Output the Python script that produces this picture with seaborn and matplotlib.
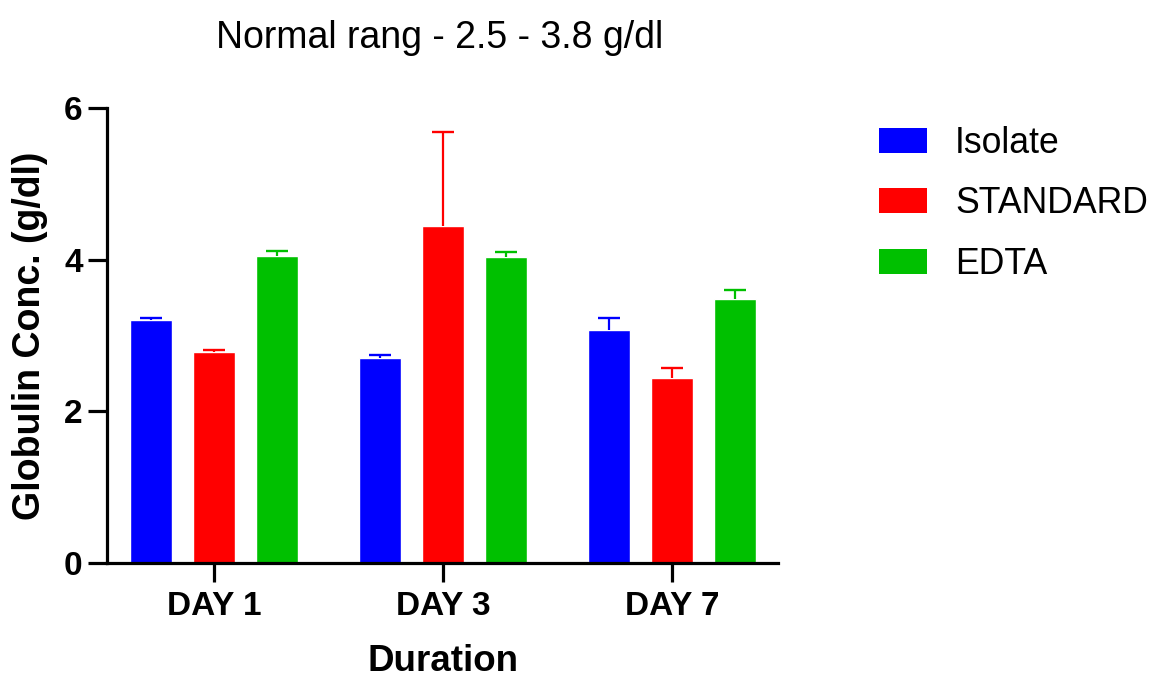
import matplotlib
matplotlib.use("Agg")
import matplotlib.pyplot as plt
import seaborn as sns
import pandas as pd
import numpy as np

days = ["DAY 1", "DAY 3", "DAY 7"]
groups = ["Isolate", "STANDARD", "EDTA"]
isolate = [3.21, 2.70, 3.07]
standard = [2.78, 4.45, 2.44]
edta = [4.05, 4.04, 3.48]
isolate_err = [0.02, 0.04, 0.16]
standard_err = [0.03, 1.23, 0.13]
edta_err = [0.06, 0.06, 0.12]
colors = ["#0000FF", "#FF0000", "#00C000"]
y_ticks = [0, 2, 4, 6]

sns.set_style("ticks")
plt.rcParams['font.family'] = ['Liberation Sans', 'DejaVu Sans']
for k in ["text.color", "axes.labelcolor", "xtick.color", "ytick.color", "axes.edgecolor"]:
    plt.rcParams[k] = "black"

rows = []
for g, vals in zip(groups, [isolate, standard, edta]):
    for d, v in zip(days, vals):
        rows.append({"day": d, "group": g, "value": v})
df = pd.DataFrame(rows)
errs = {"Isolate": isolate_err, "STANDARD": standard_err, "EDTA": edta_err}
vals_by = {"Isolate": isolate, "STANDARD": standard, "EDTA": edta}

fig = plt.figure(figsize=(11.51, 6.77), dpi=100)
ax = fig.add_axes([107/1151, 1-563/677, (778-107)/1151, (563-108)/677])

sns.barplot(data=df, x="day", y="value", hue="group", order=days, hue_order=groups,
            palette=colors, saturation=1, width=0.825, gap=0.333, errorbar=None,
            ax=ax, legend=True)

# error bars (upper only), positioned from the drawn bars
for ci, (cont, g) in enumerate(zip(ax.containers, groups)):
    xs = [p.get_x() + p.get_width() / 2 for p in cont.patches]
    ys = vals_by[g]
    e = errs[g]
    eb = ax.errorbar(xs, ys, yerr=[np.zeros(len(e)), e], fmt="none", ecolor=colors[ci],
                     elinewidth=1.6, capsize=7.8, capthick=1.7, zorder=1)
    caplines = eb[1]
    if len(caplines) >= 2:
        caplines[0].set_visible(False)

ax.set_xlim(-0.467, 2.463)
ax.set_ylim(0, 6)
ax.set_yticks(y_ticks)
sns.despine(ax=ax)
for s in ["left", "bottom"]:
    ax.spines[s].set_linewidth(2.3)
    ax.spines[s].set_color("black")
ax.tick_params(axis="both", length=14, width=2.3, color="black", labelcolor="black")
ax.tick_params(axis="y", pad=3.5)
ax.tick_params(axis="x", pad=6.5)
for lab in ax.get_xticklabels() + ax.get_yticklabels():
    lab.set_fontsize(24)
    lab.set_fontweight("bold")

ax.set_xlabel("Duration", fontsize=26.5, fontweight="bold")
ax.set_ylabel("Globulin Conc. (g/dl)", fontsize=27, fontweight="bold")
ax.yaxis.set_label_coords(-0.088, 0.5)
ax.xaxis.set_label_coords(0.5007, -0.178)

fig.text(440/1151, 1-38/677, "Normal rang - 2.5 - 3.8 g/dl", fontsize=27,
         ha="center", va="center")

ax.legend_.remove()
handles = [plt.Rectangle((0, 0), 1, 1, facecolor=c, edgecolor="none") for c in colors]
fig.legend(handles, groups, loc="upper left", bbox_to_anchor=(879/1151, 1-126/677),
           frameon=False, fontsize=25.7, handlelength=1.35, handleheight=0.7,
           handletextpad=0.78, labelspacing=0.71, borderpad=0, borderaxespad=0)

fig.savefig("out.png", dpi=100)
